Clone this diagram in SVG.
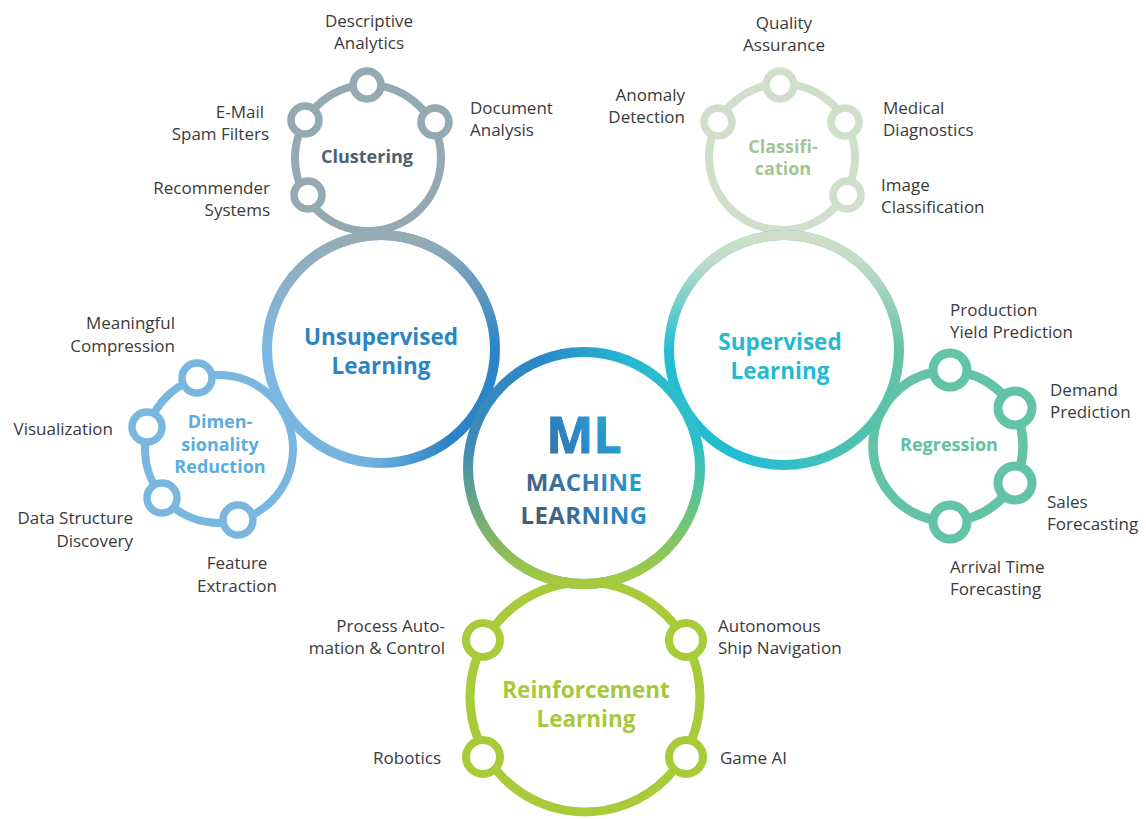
<svg xmlns="http://www.w3.org/2000/svg" width="1146" height="819" viewBox="0 0 1146 819">
<defs>
<linearGradient id="gUnsH" x1="0" y1="0" x2="1" y2="0">
<stop offset="0" stop-color="#7cb8e3"/><stop offset="0.45" stop-color="#72b0de"/><stop offset="0.8" stop-color="#2a84c8"/><stop offset="1" stop-color="#2a84c8"/>
</linearGradient>
<linearGradient id="gUnsV" x1="0" y1="0" x2="0" y2="1">
<stop offset="0" stop-color="#98acb5" stop-opacity="1"/><stop offset="0.5" stop-color="#98acb5" stop-opacity="0"/>
</linearGradient>
<linearGradient id="gSupH" x1="0" y1="0" x2="1" y2="0">
<stop offset="0" stop-color="#22bdd1"/><stop offset="0.35" stop-color="#22bdd1"/><stop offset="1" stop-color="#62c3a5"/>
</linearGradient>
<linearGradient id="gSupV" x1="0" y1="0" x2="0" y2="1">
<stop offset="0" stop-color="#cfdfc8" stop-opacity="1"/><stop offset="0.12" stop-color="#cfdfc8" stop-opacity="0.9"/><stop offset="0.5" stop-color="#cfdfc8" stop-opacity="0"/>
</linearGradient>
<linearGradient id="gMLH" x1="0" y1="0" x2="1" y2="0">
<stop offset="0" stop-color="#3d8bb8"/><stop offset="0.3" stop-color="#2b86c8"/><stop offset="0.7" stop-color="#27b8d2"/><stop offset="1" stop-color="#2ec0c8"/>
</linearGradient>
<linearGradient id="gMLV" x1="0" y1="0" x2="0" y2="1">
<stop offset="0.4" stop-color="#a8cb3a" stop-opacity="0"/><stop offset="1" stop-color="#a8cb3a" stop-opacity="1"/>
</linearGradient>
<linearGradient id="gMLtext" gradientUnits="userSpaceOnUse" x1="530" y1="500" x2="650" y2="420">
<stop offset="0" stop-color="#465e74"/><stop offset="0.5" stop-color="#2b86c8"/><stop offset="1" stop-color="#2abdd2"/>
</linearGradient>
<style>
.ring{fill:#fff}
.lbl{font-family:"Open Sans","Liberation Sans",sans-serif;font-size:17px;fill:#3a3a3a}
.ttl{font-family:"Open Sans","Liberation Sans",sans-serif;font-weight:bold;text-anchor:middle}
.big{font-size:22.5px}
.sm{font-size:18px}
.end{text-anchor:end}
.mid{text-anchor:middle}
.clu{stroke:#94a9b2}
.cla{stroke:#cfdfc9}
.reg{stroke:#62c3a6}
.dim{stroke:#7ab7e0}
.rei{stroke:#a8cb3a}
.node{fill:#fff}
</style>
</defs>

<g id="clustering">
<circle class="ring clu" cx="368" cy="158" r="73" stroke-width="8"/>
<g class="node clu" stroke-width="7.5">
<circle cx="367" cy="85" r="14"/><circle cx="435" cy="122" r="14"/><circle cx="305" cy="120" r="14"/><circle cx="308" cy="195" r="14"/>
</g>
<text class="ttl sm" x="367" y="163" fill="#4a6170">Clustering</text>
<text class="lbl mid" x="369" y="27">Descriptive</text><text class="lbl mid" x="369" y="49">Analytics</text>
<text class="lbl end" x="264" y="118">E-Mail</text><text class="lbl end" x="269" y="140">Spam Filters</text>
<text class="lbl" x="470" y="114">Document</text><text class="lbl" x="470" y="136">Analysis</text>
<text class="lbl end" x="270" y="194">Recommender</text><text class="lbl end" x="270" y="216">Systems</text>
</g>

<g id="classification">
<circle class="ring cla" cx="782" cy="157" r="73" stroke-width="8"/>
<g class="node cla" stroke-width="7.5">
<circle cx="780" cy="85" r="14"/><circle cx="718" cy="122" r="14"/><circle cx="845" cy="122" r="14"/><circle cx="847" cy="195" r="14"/>
</g>
<text class="ttl sm" x="783" y="153" fill="#a3c595">Classifi-</text><text class="ttl sm" x="783" y="175" fill="#a3c595">cation</text>
<text class="lbl mid" x="784" y="29">Quality</text><text class="lbl mid" x="784" y="51">Assurance</text>
<text class="lbl end" x="685" y="101">Anomaly</text><text class="lbl end" x="685" y="123">Detection</text>
<text class="lbl" x="883" y="114">Medical</text><text class="lbl" x="883" y="136">Diagnostics</text>
<text class="lbl" x="881" y="191">Image</text><text class="lbl" x="881" y="213">Classification</text>
</g>

<g id="regression">
<circle class="ring reg" cx="948" cy="446" r="75" stroke-width="9.5"/>
<g class="node reg" stroke-width="9">
<circle cx="950" cy="370" r="17"/><circle cx="1015" cy="408" r="17"/><circle cx="1015" cy="483" r="17"/><circle cx="950" cy="522" r="17"/>
</g>
<text class="ttl sm" x="949" y="451" fill="#5fc1a3">Regression</text>
<text class="lbl" x="950" y="316">Production</text><text class="lbl" x="950" y="338">Yield Prediction</text>
<text class="lbl" x="1050" y="396">Demand</text><text class="lbl" x="1050" y="418">Prediction</text>
<text class="lbl" x="1047" y="508">Sales</text><text class="lbl" x="1047" y="530">Forecasting</text>
<text class="lbl" x="950" y="573">Arrival Time</text><text class="lbl" x="950" y="595">Forecasting</text>
</g>

<g id="dimensionality">
<circle class="ring dim" cx="219" cy="449" r="74" stroke-width="8"/>
<g class="node dim" stroke-width="7.5">
<circle cx="197" cy="378" r="15"/><circle cx="147" cy="427" r="15"/><circle cx="162" cy="498" r="15"/><circle cx="238" cy="520" r="15"/>
</g>
<text class="ttl sm" x="220" y="428" fill="#5badde">Dimen-</text><text class="ttl sm" x="220" y="451" fill="#5badde">sionality</text><text class="ttl sm" x="220" y="473" fill="#5badde">Reduction</text>
<text class="lbl end" x="175" y="329">Meaningful</text><text class="lbl end" x="175" y="352">Compression</text>
<text class="lbl end" x="113" y="435">Visualization</text>
<text class="lbl end" x="133" y="524">Data Structure</text><text class="lbl end" x="133" y="547">Discovery</text>
<text class="lbl mid" x="237" y="569">Feature</text><text class="lbl mid" x="237" y="592">Extraction</text>
</g>

<g id="unsupervised">
<circle class="ring" cx="381" cy="349" r="114" stroke="url(#gUnsH)" stroke-width="10"/>
<circle cx="381" cy="349" r="114" fill="none" stroke="url(#gUnsV)" stroke-width="10"/>
<text class="ttl big" x="381" y="345" fill="#2b84c6">Unsupervised</text><text class="ttl big" x="381" y="374" fill="#2b84c6">Learning</text>
</g>

<g id="supervised">
<circle class="ring" cx="784" cy="350" r="115" stroke="url(#gSupH)" stroke-width="10"/>
<circle cx="784" cy="350" r="115" fill="none" stroke="url(#gSupV)" stroke-width="10"/>
<text class="ttl big" x="780" y="350" fill="#27b9cf">Supervised</text><text class="ttl big" x="780" y="379" fill="#27b9cf">Learning</text>
</g>

<g id="reinforcement">
<circle class="ring rei" cx="585" cy="697" r="115" stroke-width="9"/>
<g class="node rei" stroke-width="8">
<circle cx="483" cy="640" r="17"/><circle cx="686" cy="640" r="17"/><circle cx="483" cy="757" r="17"/><circle cx="686" cy="757" r="17"/>
</g>
<text class="ttl big" x="586" y="698" fill="#a5c93a">Reinforcement</text><text class="ttl big" x="586" y="727" fill="#a5c93a">Learning</text>
<text class="lbl end" x="445" y="632">Process Auto-</text><text class="lbl end" x="445" y="654">mation &amp; Control</text>
<text class="lbl" x="718" y="632">Autonomous</text><text class="lbl" x="718" y="654">Ship Navigation</text>
<text class="lbl end" x="441" y="764">Robotics</text>
<text class="lbl" x="720" y="764">Game AI</text>
</g>

<g id="ml">
<circle class="ring" cx="584" cy="468" r="116" stroke="url(#gMLH)" stroke-width="10"/>
<circle cx="584" cy="468" r="116" fill="none" stroke="url(#gMLV)" stroke-width="10"/>
<text class="ttl" x="584" y="453" font-size="50" fill="url(#gMLtext)" stroke="url(#gMLtext)" stroke-width="1">ML</text>
<text class="ttl" x="584" y="491" font-size="24" letter-spacing="0.4" fill="url(#gMLtext)">MACHINE</text>
<text class="ttl" x="584" y="524" font-size="24" letter-spacing="0.4" fill="url(#gMLtext)">LEARNING</text>
</g>

<g id="connectors"></g>
</svg>
